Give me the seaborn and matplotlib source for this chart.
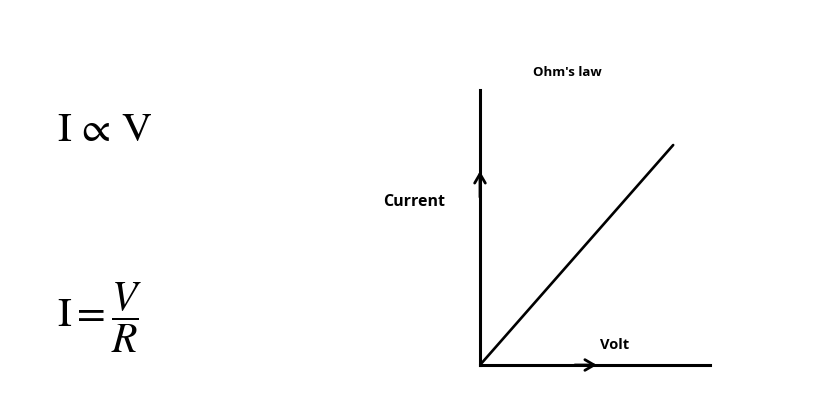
import pandas as pd
import matplotlib.pyplot as plt
import seaborn as sns

# Data: a straight line through the origin (Ohm's law)
volt = [0, 8.4]
current = [0, 8.0]
df = pd.DataFrame({'Volt': volt, 'Current': current})

sns.set_theme(style="white")
plt.rcParams['font.family'] = ['Open Sans', 'DejaVu Sans']
plt.rcParams['mathtext.fontset'] = 'stix'
plt.rcParams['text.color'] = 'black'

fig = plt.figure(figsize=(8.27, 4.16), dpi=100)
ax = fig.add_axes([0.5804, 0.1226, 0.2781, 0.661])

sns.lineplot(x='Volt', y='Current', data=df, color='black', linewidth=1.9, ax=ax)
ax.set_xlim(0, 10)
ax.set_ylim(0, 10)
ax.set_xticks([])
ax.set_yticks([])
ax.set_xlabel('')
ax.set_ylabel('')
sns.despine(ax=ax)
for side in ['left', 'bottom']:
    ax.spines[side].set_color('black')
    ax.spines[side].set_linewidth(2.2)

# chevron arrowheads on the axes
arrow = dict(arrowstyle='->,head_length=0.55,head_width=0.32', lw=2.0, color='black')
ax.annotate('', xy=(0, 0.715), xytext=(0, 0.6), xycoords='axes fraction', arrowprops=arrow)
ax.annotate('', xy=(0.52, 0), xytext=(0.4, 0), xycoords='axes fraction', arrowprops=arrow)

# labels
fig.text(567 / 827, 1 - 73 / 416, "Ohm's law", ha='center', va='center', fontsize=9.5, fontweight='bold')
fig.text(383 / 827, 1 - 202 / 416, 'Current', ha='left', va='center', fontsize=11.5, fontweight='bold')
fig.text(600 / 827, 1 - 345 / 416, 'Volt', ha='left', va='center', fontsize=10.5, fontweight='bold')

# formulas
fig.text(57 / 827, 1 - 130 / 416, r'$\mathrm{I}\,\propto\,\mathrm{V}$', ha='left', va='center', fontsize=30)
fig.text(57 / 827, 1 - 318 / 416, r'$\mathrm{I} = \dfrac{V}{R}$', ha='left', va='center', fontsize=30)

fig.savefig('out.png', dpi=100, facecolor='white')
